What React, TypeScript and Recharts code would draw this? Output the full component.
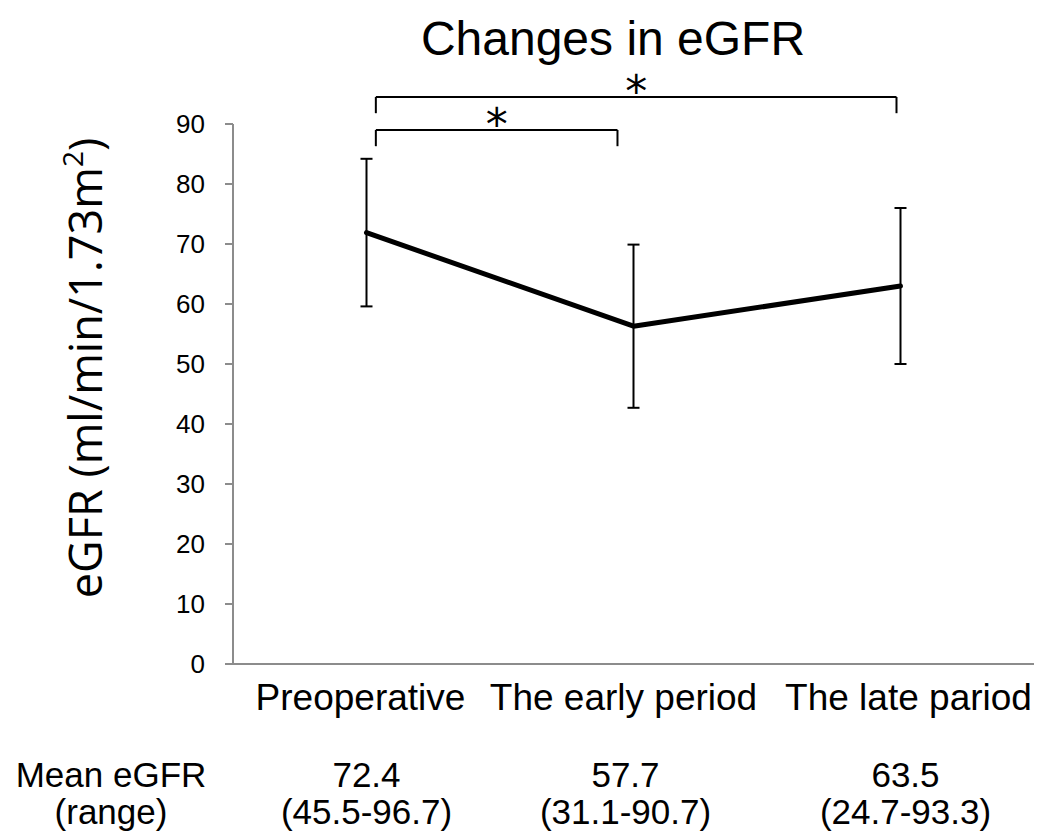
import React from 'react';
import {
  LineChart,
  Line,
  XAxis,
  YAxis,
  ErrorBar,
  ReferenceLine,
  ReferenceDot,
  Customized,
} from 'recharts';

const categories = ['Preoperative', 'The early period', 'The late pariod'];
const meanValues = [71.9, 56.3, 63.0];
const errorValues = [12.3, 13.6, 13.0];
const meanLabels = ['72.4', '57.7', '63.5'];
const rangeLabels = ['(45.5-96.7)', '(31.1-90.7)', '(24.7-93.3)'];
const yTicks = [0, 10, 20, 30, 40, 50, 60, 70, 80, 90];

// significance brackets: [from, to] in category index units, top value, foot value
const bracketFrom = [0.035, 0.035];
const bracketTo = [0.94, 1.985];
const bracketTop = [89.0, 94.5];
const bracketFoot = [86.3, 91.8];

const data = categories.map((c, i) => ({
  idx: i,
  name: c,
  value: meanValues[i],
  err: errorValues[i],
}));

const FONT = '"Liberation Sans", Arial, sans-serif';
const AXIS_GRAY = '#8c8c8c';
const LABEL_SHIFT = [-6, -10, 8];
const STAT_SHIFT = [0, -8, 5];

const CategoryTick = (props: any) => {
  const { x, y, payload } = props;
  const i = payload.value as number;
  return (
    <g>
      <text x={x + LABEL_SHIFT[i]} y={y + 38} textAnchor="middle" fontSize={37} fontFamily={FONT} fill="#000">
        {categories[i]}
      </text>
      <text x={x + STAT_SHIFT[i]} y={y + 115} textAnchor="middle" fontSize={35} fontFamily={FONT} fill="#000">
        {meanLabels[i]}
      </text>
      <text x={x + STAT_SHIFT[i]} y={y + 152} textAnchor="middle" fontSize={35} fontFamily={FONT} fill="#000">
        {rangeLabels[i]}
      </text>
    </g>
  );
};

const Extras = () => (
  <g>
    <text x={613} y={55} textAnchor="middle" fontSize={48} fontFamily={FONT} fill="#000">
      Changes in eGFR
    </text>
    <text
      x={0}
      y={0}
      transform="translate(102,368) rotate(-90)"
      textAnchor="middle"
      fontSize={45}
      fontFamily='"Open Sans", sans-serif'
      fill="#000"
    >
      eGFR (ml/min/1.73m<tspan baselineShift="super" fontSize={28}>2</tspan>)
    </text>
    <text x={111} y={787} textAnchor="middle" fontSize={35} fontFamily={FONT} fill="#000">
      Mean eGFR
    </text>
    <text x={111} y={824} textAnchor="middle" fontSize={35} fontFamily={FONT} fill="#000">
      (range)
    </text>
  </g>
);

const Star = (props: any) => {
  const { cx, cy } = props;
  return (
    <text x={cx} y={cy + 20} textAnchor="middle" fontSize={44} fontFamily='"DejaVu Sans", sans-serif' fill="#000">
      *
    </text>
  );
};

export default function App() {
  return (
    <div style={{ position: 'absolute', left: 0, top: 0, width: 1044, height: 834, background: '#fff' }}>
      <LineChart
        width={1044}
        height={834}
        data={data}
        margin={{ top: 124, right: 10, bottom: 140, left: 173 }}
      >
        <XAxis
          type="number"
          dataKey="idx"
          domain={[-0.5, 2.5]}
          ticks={[0, 1, 2]}
          tickLine={false}
          axisLine={{ stroke: AXIS_GRAY, strokeWidth: 2 }}
          tick={<CategoryTick />}
          height={30}
          interval={0}
        />
        <YAxis
          domain={[0, 90]}
          ticks={yTicks}
          width={60}
          tickSize={8}
          tickMargin={20}
          axisLine={{ stroke: AXIS_GRAY, strokeWidth: 2 }}
          tickLine={{ stroke: AXIS_GRAY, strokeWidth: 2 }}
          tick={{ fill: '#000', fontSize: 26, fontFamily: FONT }}
          interval={0}
        />
        <Line
          dataKey="value"
          stroke="#000"
          strokeWidth={5}
          dot={false}
          strokeLinecap="round"
          strokeLinejoin="round"
          isAnimationActive={false}
        >
          <ErrorBar dataKey="err" direction="y" width={6} stroke="#000" strokeWidth={2} isAnimationActive={false} />
        </Line>
        {bracketFrom.map((f, k) => (
          <ReferenceLine
            key={'h' + k}
            segment={[
              { x: f, y: bracketTop[k] },
              { x: bracketTo[k], y: bracketTop[k] },
            ]}
            stroke="#000"
            strokeWidth={2}
            ifOverflow="visible"
          />
        ))}
        {bracketFrom.map((f, k) => (
          <ReferenceLine
            key={'l' + k}
            segment={[
              { x: f, y: bracketTop[k] },
              { x: f, y: bracketFoot[k] },
            ]}
            stroke="#000"
            strokeWidth={2}
            ifOverflow="visible"
          />
        ))}
        {bracketFrom.map((f, k) => (
          <ReferenceLine
            key={'r' + k}
            segment={[
              { x: bracketTo[k], y: bracketTop[k] },
              { x: bracketTo[k], y: bracketFoot[k] },
            ]}
            stroke="#000"
            strokeWidth={2}
            ifOverflow="visible"
          />
        ))}
        {bracketFrom.map((f, k) => (
          <ReferenceDot
            key={'s' + k}
            x={(f + bracketTo[k]) / 2}
            y={bracketTop[k] + 1.7}
            r={0}
            ifOverflow="visible"
            shape={<Star />}
          />
        ))}
        <Customized component={<Extras />} />
      </LineChart>
    </div>
  );
}
